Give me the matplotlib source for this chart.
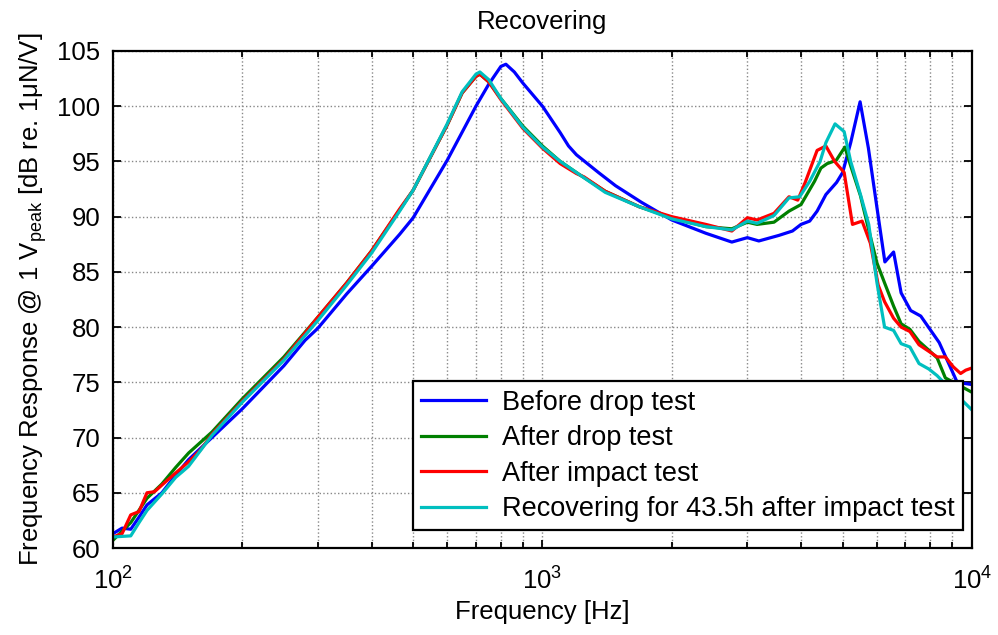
import numpy as np
import matplotlib
matplotlib.use("Agg")
import matplotlib.pyplot as plt
from matplotlib.ticker import LogLocator, NullFormatter, MultipleLocator

plt.rcParams['font.family'] = ['Liberation Sans', 'DejaVu Sans']
plt.rcParams['mathtext.fontset'] = 'custom'
plt.rcParams['mathtext.rm'] = 'Liberation Sans'
plt.rcParams['mathtext.it'] = 'Liberation Sans:italic'

# data (frequency in Hz, response in dB)
f_before = [100, 105, 110, 115, 120, 130, 140, 150, 170, 200, 250, 280, 300, 350, 400, 465,
            500, 600, 700, 750, 800, 822, 860, 900, 1000, 1100, 1150, 1200, 1350, 1480, 1700,
            2000, 2400, 2760, 3000, 3190, 3550, 3820, 4000, 4190, 4360, 4570, 4840, 5000, 5220,
            5490, 5740, 6010, 6270, 6570, 6840, 7200, 7600, 8390, 9240, 10000]
db_before = [61.3, 61.8, 61.7, 62.8, 63.9, 65.0, 66.6, 68.0, 70.0, 72.6, 76.5, 78.8, 79.9, 83.0,
             85.5, 88.4, 89.9, 95.1, 100.0, 102.0, 103.6, 103.8, 103.1, 102.1, 100.0, 97.6, 96.4,
             95.6, 94.0, 92.8, 91.3, 89.7, 88.5, 87.7, 88.1, 87.8, 88.3, 88.7, 89.3, 89.6, 90.5,
             92.0, 93.1, 94.0, 96.7, 100.4, 96.2, 90.8, 85.9, 86.8, 83.1, 81.5, 81.0, 78.6, 75.0,
             74.8]

f_drop = [100, 110, 120, 130, 140, 150, 170, 200, 250, 300, 350, 400, 465, 500, 600, 650, 700,
          715, 750, 800, 900, 1000, 1100, 1220, 1400, 1680, 2000, 2400, 2760, 3000, 3160, 3460,
          3750, 4000, 4300, 4450, 4600, 4830, 5060, 5220, 5500, 5750, 6010, 6260, 6570, 6840,
          7170, 7530, 7940, 8300, 8670, 10000]
db_drop = [60.7, 62.3, 64.5, 65.8, 67.3, 68.6, 70.5, 73.5, 77.3, 80.9, 84.0, 86.9, 90.6, 92.4,
           98.3, 101.2, 102.7, 102.9, 102.2, 100.7, 98.2, 96.4, 95.0, 93.8, 92.3, 90.9, 89.9,
           89.1, 88.9, 89.5, 89.3, 89.5, 90.5, 91.1, 93.2, 94.4, 94.8, 95.1, 96.3, 94.6, 91.9,
           88.8, 85.8, 84.0, 81.9, 80.3, 79.8, 78.7, 77.9, 77.2, 75.4, 74.1]

f_impact = [100, 105, 110, 115, 120, 125, 130, 140, 150, 160, 170, 200, 250, 300, 350, 400, 465,
            500, 600, 650, 700, 715, 750, 800, 900, 1000, 1100, 1200, 1250, 1400, 1680, 2000,
            2400, 2760, 3000, 3160, 3460, 3750, 3930, 4090, 4360, 4570, 4790, 5040, 5270, 5550,
            5800, 6050, 6260, 6570, 6840, 7170, 7530, 7940, 8300, 8670, 9050, 9410, 9670, 10000]
db_impact = [61.0, 61.3, 63.0, 63.3, 65.0, 65.1, 65.7, 66.8, 67.8, 68.9, 70.3, 73.3, 77.1, 80.9,
             84.0, 86.9, 90.7, 92.4, 98.3, 101.2, 102.7, 102.9, 102.2, 100.6, 98.0, 96.2, 94.8,
             93.9, 93.6, 92.3, 90.9, 90.0, 89.3, 88.7, 89.9, 89.7, 90.3, 91.8, 91.5, 93.1, 96.0,
             96.4, 95.0, 94.0, 89.3, 89.6, 87.6, 83.8, 82.3, 80.8, 80.0, 79.6, 78.4, 77.8, 77.3,
             77.3, 76.4, 75.8, 76.1, 76.3]

f_recov = [100, 110, 115, 120, 130, 140, 145, 150, 170, 200, 250, 300, 350, 400, 465, 500, 600,
           650, 700, 715, 750, 800, 900, 1000, 1100, 1220, 1400, 1680, 2000, 2400, 2760, 3000,
           3160, 3460, 3750, 3970, 4190, 4430, 4570, 4800, 5040, 5220, 5510, 5750, 6010, 6260,
           6570, 6840, 7170, 7530, 7940, 8300, 8590, 10000]
db_recov = [61.0, 61.1, 62.3, 63.4, 64.9, 66.4, 66.9, 67.4, 70.2, 73.2, 77.0, 80.6, 83.8, 86.7,
            90.5, 92.4, 98.4, 101.3, 102.9, 103.1, 102.4, 100.7, 98.1, 96.3, 95.0, 93.8, 92.2,
            90.9, 89.8, 89.1, 88.8, 89.6, 89.4, 90.1, 91.7, 91.8, 93.2, 95.0, 96.7, 98.4, 97.7,
            95.0, 91.9, 89.3, 84.0, 80.0, 79.7, 78.5, 78.2, 76.7, 76.2, 75.6, 75.0, 72.5]

labels = ['Before drop test', 'After drop test', 'After impact test',
          'Recovering for 43.5h after impact test']
colors = ['#0000ff', '#008000', '#ff0000', '#00bfbf']

fs = 18.5

fig = plt.figure(figsize=(9.98, 6.35), dpi=100)
ax = fig.add_axes([0.1132, 0.137, 0.8607, 0.7827])

series = [(f_before, db_before), (f_drop, db_drop), (f_impact, db_impact), (f_recov, db_recov)]
for (f, db), c, lab in zip(series, colors, labels):
    ax.semilogx(f, db, color=c, lw=2.3, label=lab)

ax.set_xlim(100, 10000)
ax.set_ylim(60, 105)
ax.yaxis.set_major_locator(MultipleLocator(5))
ax.xaxis.set_minor_locator(LogLocator(base=10, subs=np.arange(2, 10)))
ax.xaxis.set_minor_formatter(NullFormatter())

ax.grid(True, which='major', ls=':', color='#888888', lw=1.0)
ax.grid(True, which='minor', axis='x', ls=':', color='#888888', lw=1.0)
ax.tick_params(which='both', direction='in', top=True, right=True, labelsize=fs,
               width=1.3, color='black')
ax.tick_params(which='major', length=6)
ax.tick_params(which='minor', length=4)
ax.tick_params(axis='x', pad=14)
ax.tick_params(axis='y', pad=9)
for s in ax.spines.values():
    s.set_linewidth(1.6)

ax.set_xlabel('Frequency [Hz]', fontsize=fs, labelpad=4)
ax.set_ylabel(r'Frequency Response @ 1 V$_{\mathrm{peak}}$ [dB re. 1μN/V]', fontsize=fs,
              labelpad=6)
ax.set_title('Recovering', fontsize=fs, pad=16)

leg = ax.legend(loc='lower right', bbox_to_anchor=(0.9895, 0.036), fontsize=19.5,
                frameon=True, fancybox=False, handlelength=2.4, handletextpad=0.6,
                labelspacing=0.35, borderaxespad=0, borderpad=0.3)
leg.get_frame().set_edgecolor('black')
leg.get_frame().set_linewidth(1.6)
leg.get_frame().set_alpha(1)

fig.savefig('out.png', dpi=100)
